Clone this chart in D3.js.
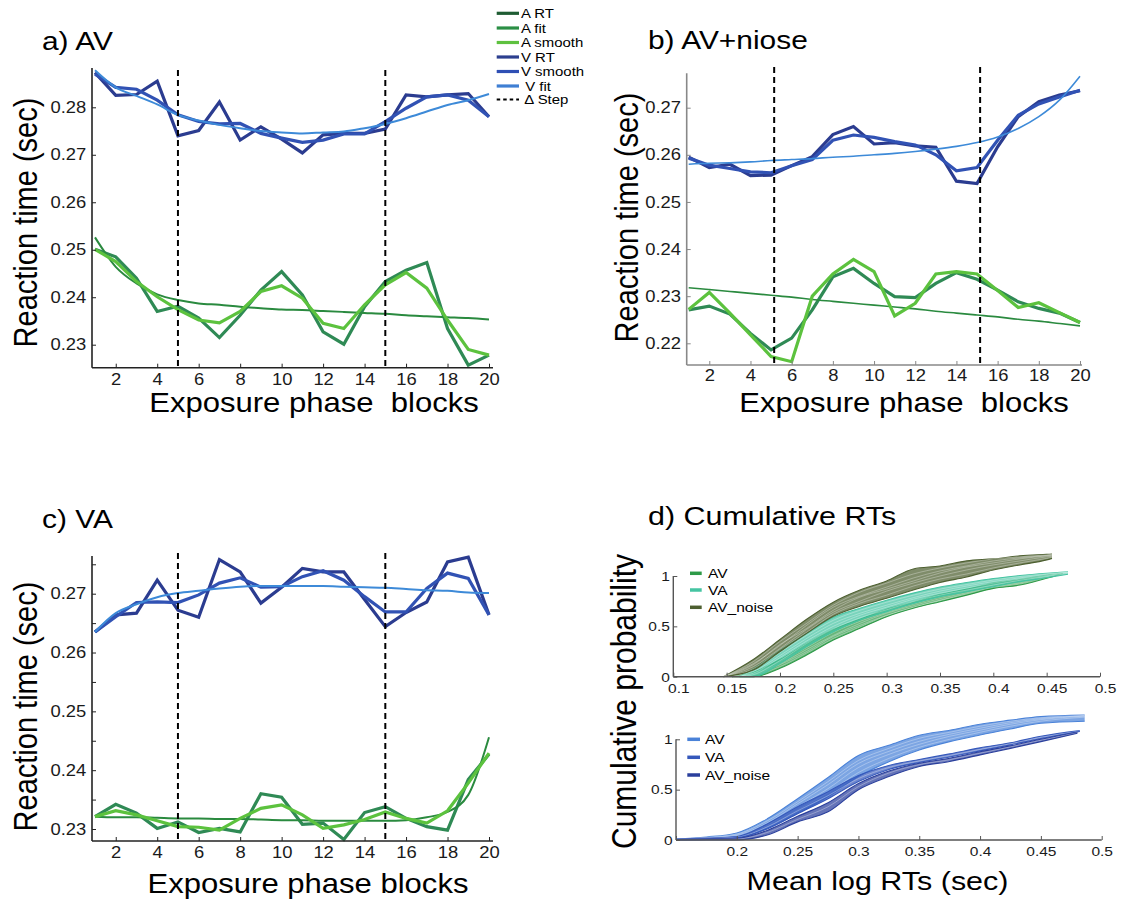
<!DOCTYPE html>
<html><head><meta charset="utf-8">
<script src="https://cdn.jsdelivr.net/npm/d3@7"></script>
<style>
body{margin:0;background:#fff}
svg text{font-family:"Liberation Sans",Arial,Helvetica,sans-serif}
</style>
</head><body>
<svg id="c" width="1127" height="901"></svg>
<script>
// ---------- DATA ----------
const blocks = [1,2,3,4,5,6,7,8,9,10,11,12,13,14,15,16,17,18,19,20];
const blockTicks = [2,4,6,8,10,12,14,16,18,20];
const stepsA = [5,15];
const stepsB = [5.15,15.15];
const stepsC = [5,15];
const yTicksA = [0.23,0.24,0.25,0.26,0.27,0.28];
const yTicksB = [0.22,0.23,0.24,0.25,0.26,0.27];
const yTicksC = [0.23,0.235,0.24,0.245,0.25,0.255,0.26,0.265,0.27,0.275];
const yLabelsC = [0.23,0.24,0.25,0.26,0.27];
const legendLabels = ["A RT","A fit","A smooth","V RT","V smooth"," V fit"," \u0394 Step"];

// panel a) AV
const aVRT     = [0.2873,0.2825,0.2827,0.2855,0.2740,0.2751,0.2811,0.2731,0.2759,0.2733,0.2704,0.2742,0.2745,0.2745,0.2754,0.2826,0.2822,0.2826,0.2829,0.2780];
const aVSmooth = [0.2870,0.2842,0.2838,0.2815,0.2784,0.2770,0.2765,0.2766,0.2745,0.2735,0.2726,0.2731,0.2744,0.2744,0.2770,0.2798,0.2822,0.2826,0.2815,0.2780];
const aVFit    = [0.2878,0.2842,0.2824,0.2806,0.2784,0.2772,0.2763,0.2756,0.2750,0.2747,0.2745,0.2747,0.2749,0.2756,0.2765,0.2777,0.2791,0.2805,0.2815,0.2828];
const aART     = [0.2501,0.2485,0.2440,0.2370,0.2381,0.2356,0.2315,0.2362,0.2415,0.2454,0.2405,0.2327,0.2301,0.2380,0.2433,0.2457,0.2473,0.2334,0.2257,0.2278];
const aASmooth = [0.2501,0.2475,0.2433,0.2401,0.2374,0.2352,0.2346,0.2370,0.2412,0.2424,0.2398,0.2345,0.2334,0.2384,0.2426,0.2452,0.2419,0.2352,0.2290,0.2278];
const aAFit    = [0.2526,0.2464,0.2429,0.2406,0.2394,0.2387,0.2384,0.2380,0.2377,0.2374,0.2373,0.2371,0.2369,0.2367,0.2365,0.2362,0.2360,0.2358,0.2356,0.2353];

// panel b) AV+niose
const bVRT     = [0.2595,0.2573,0.2580,0.2556,0.2557,0.2577,0.2596,0.2643,0.2660,0.2623,0.2626,0.2619,0.2616,0.2544,0.2539,0.2617,0.2681,0.2713,0.2727,0.2736];
const bVSmooth = [0.2593,0.2578,0.2571,0.2564,0.2562,0.2577,0.2590,0.2631,0.2642,0.2637,0.2628,0.2621,0.2600,0.2566,0.2573,0.2631,0.2684,0.2708,0.2723,0.2737];
const bVFit    = [0.2580,0.2582,0.2583,0.2585,0.2588,0.2590,0.2592,0.2595,0.2597,0.2600,0.2603,0.2607,0.2612,0.2618,0.2626,0.2638,0.2656,0.2681,0.2716,0.2767];
const bART     = [0.2271,0.2279,0.2262,0.2221,0.2186,0.2211,0.2271,0.2341,0.2359,0.2327,0.2299,0.2297,0.2327,0.2350,0.2336,0.2313,0.2288,0.2274,0.2264,0.2244];
const bASmooth = [0.2272,0.2308,0.2264,0.2218,0.2172,0.2161,0.2300,0.2347,0.2378,0.2352,0.2258,0.2285,0.2347,0.2352,0.2347,0.2312,0.2276,0.2286,0.2265,0.2244];
const bAFit    = [0.2318,0.2314,0.2310,0.2306,0.2302,0.2298,0.2293,0.2289,0.2285,0.2281,0.2277,0.2273,0.2268,0.2264,0.2260,0.2256,0.2251,0.2247,0.2242,0.2237];

// panel c) VA
const cVRT     = [0.2635,0.2664,0.2667,0.2723,0.2672,0.2660,0.2758,0.2737,0.2684,0.2711,0.2743,0.2737,0.2737,0.2690,0.2644,0.2668,0.2686,0.2754,0.2762,0.2664];
const cVSmooth = [0.2635,0.2661,0.2685,0.2686,0.2685,0.2698,0.2718,0.2727,0.2711,0.2712,0.2729,0.2739,0.2723,0.2695,0.2669,0.2669,0.2709,0.2735,0.2726,0.2664];
const cVFit    = [0.2635,0.2667,0.2682,0.2694,0.2701,0.2705,0.2709,0.2712,0.2713,0.2713,0.2713,0.2713,0.2712,0.2711,0.2710,0.2708,0.2706,0.2705,0.2702,0.2701];
const cART     = [0.2321,0.2342,0.2327,0.2301,0.2312,0.2294,0.2301,0.2295,0.2360,0.2354,0.2308,0.2310,0.2282,0.2328,0.2338,0.2318,0.2304,0.2298,0.2384,0.2427];
const cASmooth = [0.2321,0.2331,0.2324,0.2314,0.2304,0.2303,0.2298,0.2318,0.2335,0.2341,0.2324,0.2301,0.2307,0.2316,0.2329,0.2318,0.2310,0.2331,0.2378,0.2429];
const cAFit    = [0.2321,0.2320,0.2320,0.2319,0.2318,0.2318,0.2317,0.2317,0.2316,0.2315,0.2315,0.2314,0.2314,0.2314,0.2314,0.2315,0.2320,0.2329,0.2358,0.2456];

// panel d) cumulative RTs
const cdfLabels = ["AV","VA","AV_noise"];
const dTopXTicks = [0.1,0.15,0.2,0.25,0.3,0.35,0.4,0.45,0.5];
const dBotXTicks = [0.15,0.2,0.25,0.3,0.35,0.4,0.45,0.5];
const dYTicks = [0,0.5,1];

const dTopX_AV = [0.155,0.175,0.2,0.225,0.25,0.275,0.3,0.325,0.35,0.375,0.4,0.425,0.45,0.465];
const dTopAV = [
  [0,0.045,0.17,0.33,0.47,0.57,0.67,0.74,0.815,0.87,0.93,0.965,1.01,1.03],
  [0,0.035,0.15,0.29,0.44,0.55,0.64,0.72,0.79,0.85,0.91,0.95,1.00,1.028],
  [0,0.03,0.13,0.27,0.41,0.53,0.63,0.705,0.775,0.835,0.895,0.94,0.995,1.025],
  [0,0.02,0.12,0.25,0.40,0.51,0.61,0.69,0.76,0.825,0.89,0.93,0.99,1.02],
  [0,0.015,0.10,0.235,0.38,0.495,0.605,0.685,0.755,0.815,0.88,0.92,0.98,1.022],
  [0,0.0,0.083,0.215,0.364,0.48,0.596,0.68,0.745,0.81,0.877,0.91,0.977,1.026]
];
const dTopX_VA = [0.162,0.175,0.2,0.225,0.25,0.275,0.3,0.325,0.35,0.375,0.4,0.425,0.45,0.47];
const dTopVA = [
  [0,0.08,0.265,0.43,0.59,0.68,0.76,0.83,0.89,0.935,0.975,1.005,1.028,1.043],
  [0,0.065,0.24,0.41,0.56,0.66,0.74,0.81,0.87,0.915,0.96,0.995,1.022,1.04],
  [0,0.05,0.21,0.38,0.53,0.63,0.71,0.785,0.85,0.9,0.945,0.982,1.015,1.038],
  [0,0.035,0.19,0.355,0.50,0.61,0.69,0.77,0.83,0.88,0.93,0.97,1.005,1.035],
  [0,0.02,0.16,0.33,0.475,0.585,0.665,0.745,0.81,0.86,0.91,0.958,0.995,1.025],
  [0,0.0,0.13,0.30,0.447,0.563,0.646,0.728,0.795,0.844,0.894,0.944,0.983,1.017]
];
const dTopX_AVn = [0.147,0.175,0.2,0.225,0.25,0.275,0.3,0.325,0.35,0.375,0.4,0.425,0.45,0.455];
const dTopAVn = [
  [0,0.17,0.37,0.57,0.74,0.86,0.95,1.07,1.10,1.15,1.17,1.20,1.215,1.218],
  [0,0.15,0.35,0.53,0.71,0.84,0.93,1.02,1.08,1.13,1.17,1.19,1.21,1.214],
  [0,0.13,0.31,0.51,0.69,0.80,0.89,0.98,1.05,1.10,1.15,1.18,1.205,1.21],
  [0,0.12,0.32,0.48,0.66,0.79,0.87,0.95,1.03,1.09,1.13,1.17,1.20,1.205],
  [0,0.10,0.28,0.47,0.64,0.75,0.85,0.93,1.00,1.06,1.11,1.15,1.19,1.195],
  [0,0.08,0.27,0.44,0.62,0.73,0.81,0.90,0.97,1.02,1.08,1.13,1.175,1.185],
  [0,0.066,0.25,0.43,0.60,0.70,0.78,0.86,0.935,0.99,1.06,1.11,1.16,1.175]
];

const dBotX_AV = [0.15,0.175,0.2,0.225,0.25,0.275,0.3,0.325,0.35,0.375,0.4,0.425,0.45,0.486];
const dBotAV = [
  [0.01,0.03,0.07,0.21,0.41,0.62,0.84,0.94,1.04,1.09,1.15,1.19,1.225,1.24],
  [0.01,0.028,0.06,0.19,0.38,0.58,0.79,0.91,1.01,1.07,1.13,1.18,1.215,1.237],
  [0.008,0.022,0.05,0.17,0.36,0.55,0.76,0.88,0.98,1.05,1.11,1.165,1.205,1.234],
  [0.005,0.02,0.04,0.15,0.33,0.51,0.72,0.85,0.95,1.03,1.09,1.15,1.195,1.23],
  [0.003,0.012,0.03,0.13,0.30,0.47,0.67,0.81,0.92,1.00,1.07,1.13,1.18,1.22],
  [0,0.005,0.017,0.116,0.265,0.43,0.63,0.778,0.894,0.977,1.043,1.103,1.16,1.18]
];
const dBotX_VA = [0.15,0.175,0.2,0.225,0.25,0.275,0.3,0.325,0.35,0.375,0.4,0.425,0.45,0.482];
const dBotVA = [
  [0.01,0.02,0.035,0.16,0.33,0.48,0.64,0.74,0.80,0.855,0.915,0.965,1.03,1.086],
  [0.01,0.016,0.028,0.13,0.29,0.44,0.61,0.72,0.785,0.84,0.90,0.955,1.02,1.082],
  [0.006,0.012,0.022,0.11,0.26,0.41,0.58,0.70,0.77,0.825,0.885,0.945,1.008,1.078]
];
const dBotX_AVn = [0.15,0.175,0.2,0.225,0.25,0.275,0.3,0.325,0.35,0.375,0.4,0.425,0.45,0.48];
const dBotAVn = [
  [0.005,0.01,0.016,0.095,0.235,0.37,0.56,0.685,0.762,0.812,0.876,0.935,1.0,1.07],
  [0.002,0.006,0.01,0.075,0.205,0.33,0.53,0.665,0.748,0.797,0.862,0.925,0.99,1.065],
  [0,0,0,0.05,0.18,0.28,0.50,0.63,0.73,0.78,0.845,0.91,0.977,1.06]
];

// ---------- STYLE ----------
const SX = 1.15; // horizontal stretch of the original figure's text
const C = {
  vRT:"#2b3c90", vSm:"#3152b4", vFit:"#3d8ad8",
  aRT:"#2f8a55", aSm:"#5cc23e", aFit:"#2a8a3f"
};
const legendColors = ["#1f5c33","#2b8f45","#5ec13f","#2c3f8f","#2f4fb4","#3f7fd3","#000"];
const dTopColors = ["#2e9a48","#45c4a2","#4d5f30"];
const dBotColors = ["#4a82d8","#3558bb","#2a3f9c"];

const svg = d3.select("#c");

function addText(g, x, y, s, size, anchor, rot){
  return g.append("text")
    .attr("transform", `translate(${x},${y}) scale(${SX},1)` + (rot ? ` rotate(${rot})` : ""))
    .attr("font-size", size).attr("text-anchor", anchor || "start")
    .attr("fill", "#000").style("white-space","pre").text(s);
}

function styleAxis(ax, color, size, shift){
  ax.attr("font-family", null);
  ax.select(".domain").remove();
  ax.selectAll(".tick line").attr("stroke", color).attr("stroke-width", 1);
  ax.selectAll(".tick text").attr("font-size", size).attr("fill","#1a1a1a")
    .attr("transform", `translate(${shift || 0},0) scale(${SX},1)`);
}

function rtPanel(o){
  const g = svg.append("g");
  const x = d3.scaleLinear().domain([1,20]).range(o.xr);
  const y = d3.scaleLinear().domain(o.yd).range(o.yr);
  o.series.forEach(s => {
    g.append("path").datum(blocks.map((b,i) => [b, s.ys[i]]))
      .attr("d", d3.line().x(d => x(d[0])).y(d => y(d[1]))
        .curve(s.fit ? d3.curveMonotoneX : d3.curveLinear))
      .attr("fill","none").attr("stroke", s.color).attr("stroke-width", s.w)
      .attr("stroke-linejoin","miter");
  });
  o.steps.forEach(v => g.append("line")
    .attr("x1", x(v)).attr("x2", x(v)).attr("y1", o.dashTop).attr("y2", o.bottom)
    .attr("stroke","#000").attr("stroke-width",2).attr("stroke-dasharray","6,4"));
  g.append("line").attr("x1", o.left).attr("x2", o.right).attr("y1", o.bottom).attr("y2", o.bottom)
    .attr("stroke", o.axisColor).attr("stroke-width", 1.6);
  g.append("line").attr("x1", o.left).attr("x2", o.left).attr("y1", o.top).attr("y2", o.bottom)
    .attr("stroke", o.axisColor).attr("stroke-width", 1.6);
  const xa = g.append("g").attr("transform", `translate(0,${o.bottom})`)
    .call(d3.axisBottom(x).tickValues(blockTicks).tickSize(-4).tickSizeOuter(0)
      .tickPadding(o.xpad).tickFormat(d3.format("d")));
  styleAxis(xa, o.axisColor, 16);
  const ya = g.append("g").attr("transform", `translate(${o.left},0)`)
    .call(d3.axisLeft(y).tickValues(o.yTicks).tickSize(-4).tickSizeOuter(0).tickPadding(5)
      .tickFormat(d => o.yLabels.includes(d) ? d3.format(".2f")(d) : ""));
  styleAxis(ya, o.axisColor, 16);
  addText(g, o.title[0], o.title[1], o.title[2], 26, "start");
  addText(g, o.xlab[0], o.xlab[1], o.xlab[2], 27, "middle");
  addText(g, o.ylab[0], o.ylab[1], "Reaction time (sec)", 29, "middle", -90);
}

rtPanel({
  xr:[95,489], yd:[0.23,0.28], yr:[344.7,107.3], left:92, right:493, top:68, bottom:367.7, dashTop:70,
  axisColor:"#222", xpad:6, yTicks:yTicksA, yLabels:yTicksA, steps:stepsA,
  series:[
    {ys:aART, color:C.aRT, w:3.2}, {ys:aAFit, color:C.aFit, w:2, fit:true}, {ys:aASmooth, color:C.aSm, w:3.2},
    {ys:aVRT, color:C.vRT, w:3.2}, {ys:aVSmooth, color:C.vSm, w:3.2}, {ys:aVFit, color:C.vFit, w:2, fit:true}
  ],
  title:[42,50,"a) AV"], xlab:[314,412,"Exposure phase  blocks"], ylab:[37,222.5]
});
rtPanel({
  xr:[688.7,1080], yd:[0.22,0.27], yr:[343.3,107.7], left:686.7, right:1082, top:73.3, bottom:365, dashTop:67,
  axisColor:"#888", xpad:5, yTicks:yTicksB, yLabels:yTicksB, steps:stepsB,
  series:[
    {ys:bART, color:C.aRT, w:3.2}, {ys:bAFit, color:C.aFit, w:1.6, fit:true}, {ys:bASmooth, color:C.aSm, w:3.2},
    {ys:bVRT, color:C.vRT, w:3.2}, {ys:bVSmooth, color:C.vSm, w:3.2}, {ys:bVFit, color:C.vFit, w:1.6, fit:true}
  ],
  title:[648,49,"b) AV+niose"], xlab:[904,411.7,"Exposure phase  blocks"], ylab:[638,217.5]
});
rtPanel({
  xr:[95,489], yd:[0.23,0.27], yr:[829,593.7], left:92, right:493, top:556, bottom:841, dashTop:553,
  axisColor:"#222", xpad:6, yTicks:yTicksC, yLabels:yLabelsC, steps:stepsC,
  series:[
    {ys:cART, color:C.aRT, w:3.2}, {ys:cAFit, color:C.aFit, w:2, fit:true}, {ys:cASmooth, color:C.aSm, w:3.2},
    {ys:cVRT, color:C.vRT, w:3.2}, {ys:cVSmooth, color:C.vSm, w:3.2}, {ys:cVFit, color:C.vFit, w:2, fit:true}
  ],
  title:[42,528,"c) VA"], xlab:[308,893,"Exposure phase blocks"], ylab:[37,706.5]
});

// legend of panel a
(function(){
  const g = svg.append("g");
  const rows = [13.3,28,42.5,57,71.5,86,99.5];
  legendLabels.forEach((lab,i) => {
    g.append("line").attr("x1",496.7).attr("x2",519).attr("y1",rows[i]).attr("y2",rows[i])
      .attr("stroke",legendColors[i]).attr("stroke-width", i===6 ? 2 : 3.2)
      .attr("stroke-dasharray", i===6 ? "3.5,3" : null);
    addText(g, 521, rows[i]+4.6, lab, 13, "start");
  });
})();

function cdfPanel(o){
  const g = svg.append("g");
  const x = d3.scaleLinear().domain(o.xd).range(o.xr);
  const y = d3.scaleLinear().domain([0,1]).range(o.yr);
  o.groups.forEach(gr => {
    const lo = gr.xs.map((v,i) => d3.min(gr.curves, c => c[i]));
    const hi = gr.xs.map((v,i) => d3.max(gr.curves, c => c[i]));
    g.append("path").datum(gr.xs.map((v,i) => [v, lo[i], hi[i]]))
      .attr("d", d3.area().x(d => x(d[0])).y0(d => y(d[1])).y1(d => y(d[2])).curve(d3.curveMonotoneX))
      .attr("fill", gr.color).attr("fill-opacity", 0.72);
    gr.curves.forEach((c,k) => {
      const edge = (k === 0 || k === gr.curves.length-1);
      g.append("path").datum(gr.xs.map((v,i) => [v, c[i]]))
        .attr("d", d3.line().x(d => x(d[0])).y(d => y(d[1])).curve(d3.curveMonotoneX))
        .attr("fill","none")
        .attr("stroke", edge ? gr.color : "#fff")
        .attr("stroke-opacity", edge ? 1 : 0.45)
        .attr("stroke-width", edge ? 1.1 : 0.7);
    });
  });
  g.append("line").attr("x1", o.xr[0]).attr("x2", o.xr[1]).attr("y1", o.yr[0]).attr("y2", o.yr[0])
    .attr("stroke","#555").attr("stroke-width",1.4);
  g.append("line").attr("x1", o.xr[0]).attr("x2", o.xr[0]).attr("y1", o.yr[1]).attr("y2", o.yr[0])
    .attr("stroke","#555").attr("stroke-width",1.4);
  const xa = g.append("g").attr("transform", `translate(0,${o.yr[0]})`)
    .call(d3.axisBottom(x).tickValues(o.xTicks).tickSize(-4).tickSizeOuter(0).tickPadding(o.xpad)
      .tickFormat(d => o.xLabels.includes(d) ? String(d) : ""));
  styleAxis(xa, "#555", 13.5, o.xShift);
  const ya = g.append("g").attr("transform", `translate(${o.xr[0]},0)`)
    .call(d3.axisLeft(y).tickValues(dYTicks).tickSize(-4).tickSizeOuter(0).tickPadding(3)
      .tickFormat(d => String(d)));
  styleAxis(ya, "#555", 13.5);
  cdfLabels.forEach((lab,i) => {
    g.append("line").attr("x1", o.leg[0]).attr("x2", o.leg[1]).attr("y1", o.legRows[i]).attr("y2", o.legRows[i])
      .attr("stroke", o.groups[i].color).attr("stroke-width", 3.5);
    addText(g, o.leg[2], o.legRows[i]+5, lab, 13.5, "start");
  });
}

cdfPanel({
  xd:[0.1,0.5], xr:[673.3,1100], yr:[676.7,576], xTicks:dTopXTicks, xLabels:dTopXTicks, xpad:6.5, xShift:5,
  groups:[
    {xs:dTopX_AV, curves:dTopAV, color:dTopColors[0]},
    {xs:dTopX_VA, curves:dTopVA, color:dTopColors[1]},
    {xs:dTopX_AVn, curves:dTopAVn, color:dTopColors[2]}
  ],
  leg:[690,701.7,708], legRows:[573.3,590,607.3]
});
cdfPanel({
  xd:[0.15,0.5], xr:[676,1101.7], yr:[840,739.3], xTicks:dBotXTicks, xLabels:dBotXTicks.slice(1), xpad:6, xShift:0,
  groups:[
    {xs:dBotX_AV, curves:dBotAV, color:dBotColors[0]},
    {xs:dBotX_VA, curves:dBotVA, color:dBotColors[1]},
    {xs:dBotX_AVn, curves:dBotAVn, color:dBotColors[2]}
  ],
  leg:[687.3,700,705], legRows:[739.3,757.3,775]
});

(function(){
  const g = svg.append("g");
  addText(g, 648, 525, "d) Cumulative RTs", 26.5, "start");
  addText(g, 636, 701.5, "Cumulative probability", 30, "middle", -90);
  addText(g, 877.5, 890, "Mean log RTs (sec)", 26.5, "middle");
})();
</script>
</body></html>
